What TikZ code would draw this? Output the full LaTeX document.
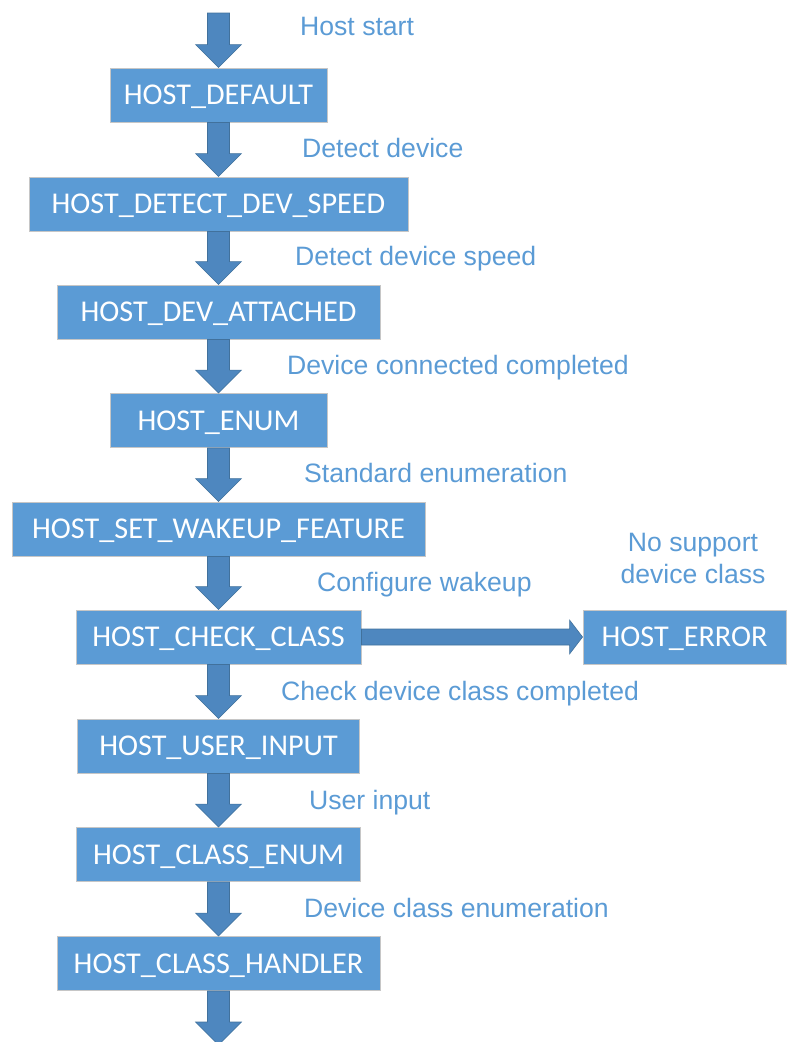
\documentclass[tikz,border=0pt]{standalone}
\usepackage{fontspec}
\setmainfont{Liberation Sans}
\newfontfamily\boxfont{Carlito}
\usetikzlibrary{calc}
\definecolor{boxblue}{HTML}{5B9BD5}
\definecolor{arrowblue}{HTML}{4E87BF}
\definecolor{arrowedge}{HTML}{41719C}
\definecolor{labelblue}{HTML}{5B9BD5}
\definecolor{boxedge}{HTML}{C6C6C6}
\tikzset{
  state/.style={fill=boxblue, draw=boxedge, line width=0.9pt, text=white,
    font=\boxfont\fontsize{30.2}{36}\selectfont, inner sep=0pt,
    minimum height=54pt, text height=19pt, text depth=0pt},
  lbl/.style={text=labelblue, font=\fontsize{26.6}{32}\selectfont, inner sep=0pt, anchor=base west},
  blockarrow/.style={fill=arrowblue, draw=arrowedge, line width=0.6pt, line join=miter}
}
\newcommand{\vblock}[2]{%
  \draw[blockarrow] ($(#1)+(-11,0)$) -- ($(#2)+(-11,-23)$) -- ($(#2)+(-23,-23)$) -- (#2)
    -- ($(#2)+(23,-23)$) -- ($(#2)+(11,-23)$) -- ($(#1)+(11,0)$) -- cycle;}
\begin{document}
\begin{tikzpicture}[x=1pt,y=-1pt]
\useasboundingbox (0,0) rectangle (787,1042);
% states
\node[state, minimum width=217pt] (s1) at (218.5,95) {HOST\_DEFAULT};
\node[state, minimum width=379pt] (s2) at (218.5,204) {HOST\_DETECT\_DEV\_SPEED};
\node[state, minimum width=323pt] (s3) at (218.5,312) {HOST\_DEV\_ATTACHED};
\node[state, minimum width=217pt] (s4) at (218.5,420.5) {HOST\_ENUM};
\node[state, minimum width=413pt] (s5) at (218.5,529) {HOST\_SET\_WAKEUP\_FEATURE};
\node[state, minimum width=285pt] (s6) at (218.5,637) {HOST\_CHECK\_CLASS};
\node[state, minimum width=282pt] (s7) at (218.5,746) {HOST\_USER\_INPUT};
\node[state, minimum width=284pt] (s8) at (218.5,854.5) {HOST\_CLASS\_ENUM};
\node[state, minimum width=323pt] (s9) at (218.5,963.5) {HOST\_CLASS\_HANDLER};
\node[state, minimum width=203pt] (err) at (684.5,637) {HOST\_ERROR};
\coordinate (start) at (218.5,13);
\coordinate (finish) at (218.5,1045);
% vertical block arrows
\vblock{start}{s1.north}
\vblock{s1.south}{s2.north}
\vblock{s2.south}{s3.north}
\vblock{s3.south}{s4.north}
\vblock{s4.south}{s5.north}
\vblock{s5.south}{s6.north}
\vblock{s6.south}{s7.north}
\vblock{s7.south}{s8.north}
\vblock{s8.south}{s9.north}
\vblock{s9.south}{finish}
% horizontal block arrow
\draw[blockarrow] ($(s6.east)+(0,-8)$) -- ($(err.west)+(-13,-8)$) -- ($(err.west)+(-13,-17)$)
  -- (err.west) -- ($(err.west)+(-13,17)$) -- ($(err.west)+(-13,8)$) -- ($(s6.east)+(0,8)$) -- cycle;
% labels
\node[lbl] (l1) at (300,35) {Host start};
\node[lbl] (l2) at (302,157) {Detect device};
\node[lbl] (l3) at (295,265) {Detect device speed};
\node[lbl] (l4) at (287,374) {Device connected completed};
\node[lbl] (l5) at (304,482) {Standard enumeration};
\node[lbl] (l6) at (317,591) {Configure wakeup};
\node[lbl] (l7) at (281,700) {Check device class completed};
\node[lbl] (l8) at (309,809) {User input};
\node[lbl] (l9) at (304,917) {Device class enumeration};
\node[text=labelblue, font=\fontsize{26.6}{32}\selectfont, inner sep=0pt, align=center, anchor=base]
  (l10) at (693,583) {No support\\device class};
\end{tikzpicture}
\end{document}
